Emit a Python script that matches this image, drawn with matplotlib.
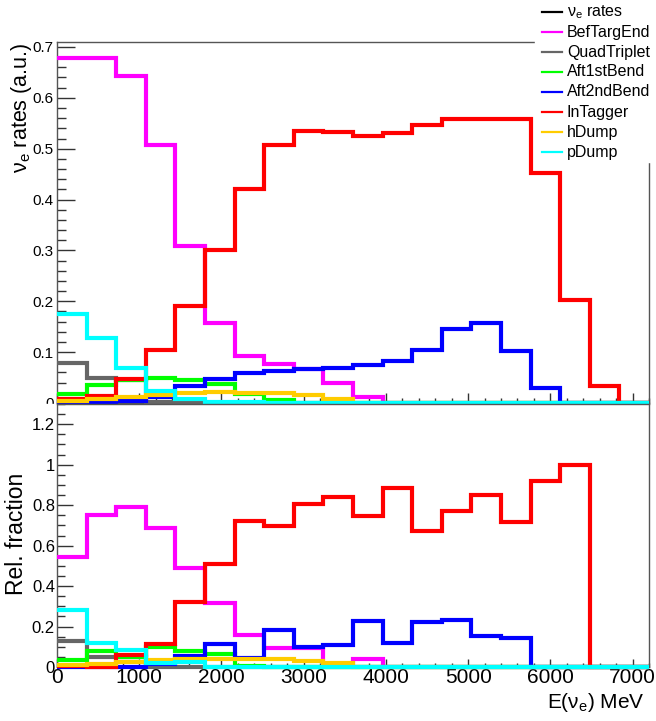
import matplotlib
matplotlib.use("Agg")
import matplotlib.pyplot as plt
import numpy as np
from matplotlib.ticker import MultipleLocator
from matplotlib.lines import Line2D
from matplotlib.patches import Rectangle

plt.rcParams['font.family'] = ['Liberation Sans', 'DejaVu Sans']
plt.rcParams['mathtext.fontset'] = 'custom'
plt.rcParams['mathtext.rm'] = 'Liberation Sans'
plt.rcParams['mathtext.it'] = 'Liberation Sans'

# 20 bins of 360 MeV
edges = np.arange(0, 7201, 360)

names = ['BefTargEnd', 'QuadTriplet', 'Aft1stBend', 'Aft2ndBend', 'InTagger', 'hDump', 'pDump']
colors = ['#ff00ff', '#666666', '#00ff00', '#0000ff', '#ff0000', '#ffcc00', '#00ffff']

# upper pad: nu_e rates (a.u.)
bef = [0.678, 0.678, 0.643, 0.508, 0.309, 0.158, 0.092, 0.077, 0.067, 0.039,
       0.012, 0, 0, 0, 0, 0, 0, 0, 0, 0]
quad = [0.078, 0.049, 0.046, 0.001, 0.001, 0, 0, 0, 0, 0,
        0, 0, 0, 0, 0, 0, 0, 0, 0, 0]
aft1 = [0.017, 0.035, 0.046, 0.050, 0.046, 0.037, 0.018, 0.006, 0, 0,
        0, 0, 0, 0, 0, 0, 0, 0, 0, 0]
aft2 = [0, 0.002, 0.003, 0.012, 0.033, 0.047, 0.059, 0.063, 0.066, 0.069,
        0.075, 0.083, 0.105, 0.145, 0.157, 0.103, 0.029, 0, 0, 0]
intag = [0.007, 0.014, 0.048, 0.105, 0.190, 0.300, 0.420, 0.508, 0.534, 0.532,
         0.525, 0.530, 0.547, 0.559, 0.559, 0.559, 0.452, 0.203, 0.033, 0]
hdump = [0.004, 0.008, 0.012, 0.016, 0.020, 0.021, 0.020, 0.020, 0.016, 0.007,
         0, 0, 0, 0, 0, 0, 0, 0, 0, 0]
pdump = [0.175, 0.128, 0.069, 0.024, 0.007, 0.001, 0.001, 0, 0, 0,
         0, 0, 0, 0, 0, 0, 0, 0, 0, 0]

# lower pad: relative fraction
bef_r = [0.546, 0.752, 0.789, 0.686, 0.488, 0.315, 0.158, 0.092, 0.092, 0.012,
         0.038, 0, 0, 0, 0, 0, 0, 0, 0, 0]
quad_r = [0.130, 0.051, 0.050, 0.002, 0.002, 0, 0, 0, 0, 0,
          0, 0, 0, 0, 0, 0, 0, 0, 0, 0]
aft1_r = [0.033, 0.080, 0.047, 0.098, 0.078, 0.065, 0.005, 0.002, 0, 0,
          0, 0, 0, 0, 0, 0, 0, 0, 0, 0]
aft2_r = [0, 0, 0.002, 0.015, 0.055, 0.112, 0.046, 0.183, 0.100, 0.109,
          0.228, 0.117, 0.224, 0.233, 0.153, 0.145, 0, 0, 0, 0]
intag_r = [0.004, 0.002, 0.059, 0.112, 0.323, 0.508, 0.724, 0.698, 0.807, 0.840,
           0.744, 0.884, 0.670, 0.772, 0.851, 0.715, 0.921, 1.0, 0, 0]
hdump_r = [0.010, 0.015, 0.026, 0.035, 0.038, 0.038, 0.038, 0.038, 0.030, 0.018,
           0, 0, 0, 0, 0, 0, 0, 0, 0, 0]
pdump_r = [0.282, 0.117, 0.084, 0.021, 0.026, 0.002, 0.002, 0, 0, 0,
           0, 0, 0, 0, 0, 0, 0, 0, 0, 0]

top_series = [bef, quad, aft1, aft2, intag, hdump, pdump]
bot_series = [bef_r, quad_r, aft1_r, aft2_r, intag_r, hdump_r, pdump_r]

W, H = 656, 721
fig = plt.figure(figsize=(W / 100, H / 100), dpi=100)

ax1 = fig.add_axes([57 / W, 1 - 403 / H, 592 / W, 361 / H])
ax2 = fig.add_axes([57 / W, 1 - 667 / H, 592 / W, 263 / H])

frame_col = '#555555'
for ax in (ax1, ax2):
    for s in ax.spines.values():
        s.set_color(frame_col)
        s.set_linewidth(1.0)
    ax.set_xlim(0, 7200)
    ax.xaxis.set_major_locator(MultipleLocator(1000))
    ax.xaxis.set_minor_locator(MultipleLocator(200))
    ax.tick_params(which='both', direction='in', top=False, right=False,
                   color='#333333', width=1.0)

# upper pad
for vals, c in zip(top_series, colors):
    ax1.stairs(vals, edges, baseline=None, color=c, lw=3, clip_on=False, zorder=3)
ax1.set_ylim(0, 0.7098)
ax1.set_yticks(np.arange(0, 0.71, 0.1))
ax1.set_yticklabels(['0', '0.1', '0.2', '0.3', '0.4', '0.5', '0.6', '0.7'])
ax1.yaxis.set_minor_locator(MultipleLocator(0.02))
ax1.tick_params(axis='y', which='major', length=13, labelsize=11, pad=2.5)
ax1.tick_params(axis='y', which='minor', length=6.5)
ax1.tick_params(axis='x', which='major', length=7, labelbottom=False)
ax1.tick_params(axis='x', which='minor', length=3.6)

# lower pad
for vals, c in zip(bot_series, colors):
    ax2.stairs(vals, edges, baseline=None, color=c, lw=3, clip_on=False, zorder=3)
ax2.set_ylim(0, 1.3)
ax2.set_yticks([0, 0.2, 0.4, 0.6, 0.8, 1.0, 1.2])
ax2.set_yticklabels(['0', '0.2', '0.4', '0.6', '0.8', '1', '1.2'])
ax2.yaxis.set_minor_locator(MultipleLocator(0.05))
ax2.tick_params(axis='y', which='major', length=11.5, labelsize=12, pad=1.5)
ax2.tick_params(axis='y', which='minor', length=5.8)
ax2.tick_params(axis='x', which='major', length=6, labelsize=15, pad=1)
ax2.tick_params(axis='x', which='minor', length=3)

# cut the upper pad's "0" like the pad border does
fig.add_artist(Rectangle((0, 1 - 415 / H), 55 / W, 11 / H,
                         transform=fig.transFigure, color='white', zorder=1))

# axis titles
fig.text(22 / W, 1 - 43 / H, r'$\mathrm{\nu_e}$ rates (a.u.)', rotation=90,
         ha='center', va='top', fontsize=15.5)
fig.text(17 / W, 1 - 534 / H, 'Rel. fraction', rotation=90,
         ha='center', va='center', fontsize=16.5)
fig.text(645 / W, 1 - 702 / H, r'E($\mathrm{\nu_e}$) MeV',
         ha='right', va='center', fontsize=15)

# legend box (white, no border) over the top-right corner of the frame
fig.add_artist(Rectangle((535 / W, 1 - 162 / H), 121 / W, 162 / H,
                         transform=fig.transFigure, color='white', zorder=2))
leg_labels = [r'$\mathrm{\nu_e}$ rates'] + names
leg_colors = ['black'] + colors
for i, (lab, c) in enumerate(zip(leg_labels, leg_colors)):
    yy = 1 - (12 + 20 * i) / H
    fig.add_artist(Line2D([542 / W, 562 / W], [yy, yy], transform=fig.transFigure,
                          color=c, lw=1.6, zorder=3))
    fig.text(567 / W, yy, lab, ha='left', va='center', fontsize=11.5, zorder=3)

fig.savefig('out.png', dpi=100)
